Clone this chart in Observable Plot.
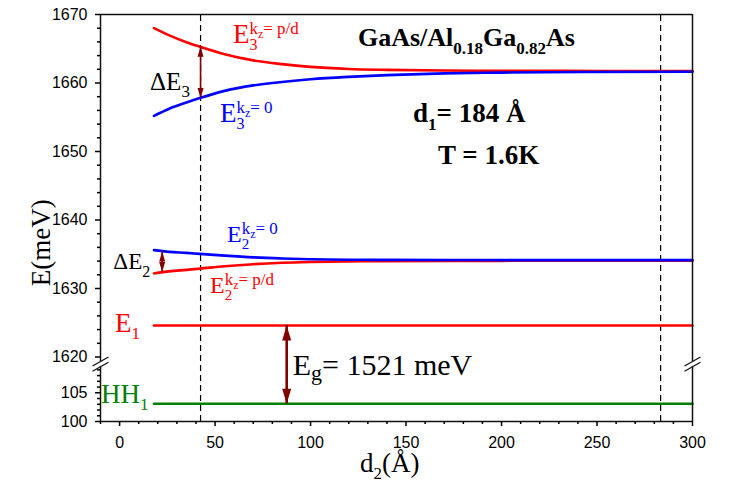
<!DOCTYPE html>
<html><head><meta charset="utf-8">
<script src="https://cdn.jsdelivr.net/npm/d3@7"></script>
<script src="https://cdn.jsdelivr.net/npm/@observablehq/plot@0.6"></script>
<style>body{margin:0;background:#fff}</style>
</head><body><div id="chart"></div>
<script>
// ---------- data ----------
const d2 = [18, 26, 35, 42, 55, 70, 85, 100, 120, 140, 170, 200, 250, 300];
const E3pi   = [1668.0, 1666.95, 1665.95, 1665.3, 1664.2, 1663.3, 1662.75, 1662.35, 1662.05, 1661.92, 1661.82, 1661.78, 1661.76, 1661.75];
const E3zero = [1655.2, 1656.25, 1657.15, 1657.8, 1658.85, 1659.65, 1660.15, 1660.55, 1660.9, 1661.15, 1661.4, 1661.52, 1661.61, 1661.65];
const E2zero = [1635.6, 1635.35, 1635.2, 1635.05, 1634.8, 1634.55, 1634.38, 1634.27, 1634.2, 1634.18, 1634.16, 1634.15, 1634.15, 1634.15];
const E2pi   = [1632.2, 1632.5, 1632.72, 1632.9, 1633.25, 1633.55, 1633.75, 1633.87, 1633.96, 1634.0, 1634.03, 1634.04, 1634.05, 1634.05];
const flatX  = [18, 300];
const E1     = [1624.6, 1624.6];
const HH1    = [103.1, 103.1];
const dashedX = [42.4, 283.3];

const xMajor = [0, 50, 100, 150, 200, 250, 300];
const xMinor = d3.range(-10, 301, 10).filter(v => v % 50 !== 0);
const yMajor = [100, 105, 1620, 1630, 1640, 1650, 1660, 1670];
const yMinor = [101, 102, 103, 104, 106, 107, 108, 109, ...d3.range(1622, 1670, 2).filter(v => v % 10 !== 0)];

const yDomain = [100, 109.6, 1619.3, 1670];   // broken axis: lower and upper segments
const xDomain = [-10, 300];

const arrowsThin = [{x: 42.4, y1: 1665.3, y2: 1657.8}, {x: 22.3, y1: 1635.4, y2: 1632.4}];
const arrowsThick = [{x: 87.5, y1: 1624.6, y2: 103.1}];

const red = "#ff0000", blue = "#0000ff", green = "#008000", darkRed = "#800000";

// ---------- helpers ----------
const series = (xs, ys) => xs.map((x, i) => ({x, y: ys[i]}));
const head = (len, hw, up) => ({draw(ctx) { const s = up ? 1 : -1; ctx.moveTo(0, 0); ctx.lineTo(hw, s * len); ctx.lineTo(-hw, s * len); ctx.closePath(); }});
const breakSym = {draw(ctx) { for (const o of [-2.6, 2.6]) { ctx.moveTo(-8, o + 4.5); ctx.lineTo(8, o - 4.5); } }};
const breakY = (yDomain[1] + yDomain[2]) / 2;
const frameSegs = [
  {x: -10, y1: 100, y2: yDomain[1]}, {x: -10, y1: yDomain[2], y2: 1670},
  {x: 300, y1: 100, y2: yDomain[1]}, {x: 300, y1: yDomain[2], y2: 1670}
];
const curveOpts = (stroke) => ({x: "x", y: "y", stroke, strokeWidth: 2.6, curve: "monotone-x"});
const fmt = d => String(d);

const plot = Plot.plot({
  width: 730, height: 482,
  marginLeft: 100, marginRight: 38, marginTop: 14, marginBottom: 61,
  style: {fontFamily: "'Liberation Sans', Arial, sans-serif", fontSize: "16px", background: "#fff", color: "#000", overflow: "visible"},
  x: {domain: xDomain},
  y: {type: "linear", domain: yDomain, range: [421, 365.9, 361.3, 14]},
  marks: [
    Plot.ruleX(dashedX, {y1: 100, y2: 1670, stroke: "#000", strokeWidth: 1.2, strokeDasharray: "6,4"}),
    Plot.line(series(d2, E3pi), curveOpts(red)),
    Plot.line(series(d2, E3zero), curveOpts(blue)),
    Plot.line(series(d2, E2pi), curveOpts(red)),
    Plot.line(series(d2, E2zero), curveOpts(blue)),
    Plot.line(series(flatX, E1), curveOpts(red)),
    Plot.line(series(flatX, HH1), curveOpts(green)),
    // arrows
    Plot.ruleX(arrowsThin, {x: "x", y1: "y1", y2: "y2", stroke: darkRed, strokeWidth: 1.6}),
    Plot.ruleX(arrowsThick, {x: "x", y1: "y1", y2: "y2", stroke: darkRed, strokeWidth: 2.6}),
    Plot.dot(arrowsThin, {x: "x", y: "y1", r: 4, symbol: head(10, 3, true), fill: darkRed, stroke: "none"}),
    Plot.dot(arrowsThin, {x: "x", y: "y2", r: 4, symbol: head(10, 3, false), fill: darkRed, stroke: "none"}),
    Plot.dot(arrowsThick, {x: "x", y: "y1", r: 4, symbol: head(15, 4.5, true), fill: darkRed, stroke: "none"}),
    Plot.dot(arrowsThick, {x: "x", y: "y2", r: 4, symbol: head(15, 4.5, false), fill: darkRed, stroke: "none"}),
    // frame
    Plot.ruleY([100, 1670], {stroke: "#111", strokeWidth: 1.5}),
    Plot.ruleX(frameSegs, {x: "x", y1: "y1", y2: "y2", stroke: "#111", strokeWidth: 1.5}),
    Plot.dot([-10, 300], {x: d => d, y: () => breakY, r: 5, symbol: breakSym, fill: "none", stroke: "#111", strokeWidth: 1.3}),
    // axes
    Plot.axisX(xMajor, {tickSize: 5, tickPadding: 10, strokeWidth: 1.5, fontSize: 16, tickFormat: fmt, label: null}),
    Plot.axisX(xMinor, {tickSize: 3, strokeWidth: 1.5, tickFormat: () => "", label: null}),
    Plot.axisY(yMajor, {tickSize: 5, tickPadding: 8, strokeWidth: 1.5, fontSize: 16, tickFormat: fmt, label: null}),
    Plot.axisY(yMinor, {tickSize: 3, strokeWidth: 1.5, tickFormat: () => "", label: null})
  ]
});
document.getElementById("chart").append(plot);

// ---------- rich-text labels (sub/superscripts), placed through the plot's scales ----------
const sx = plot.scale("x").apply, sy = plot.scale("y").apply;
// part style: s = font size (px), d = baseline shift (px), stack = start at the previous part's x
const st = (s, d, stack) => ({s, d, stack});

const labels = [
  {x: 59.6, y: 1665.7, size: 27, color: red,  parts: [["E"], ["3", st(16, 7)], ["k", st(17, -9, true)], ["z", st(12, -5)], ["= p/d", st(17, -9)]]},
  {x: 52.8, y: 1654.3, size: 27, color: blue, parts: [["E"], ["3", st(16, 7)], ["k", st(17, -9, true)], ["z", st(12, -5)], ["= 0", st(17, -9)]]},
  {x: 56.5, y: 1636.75, size: 24, color: blue, parts: [["E"], ["2", st(15, 7)], ["k", st(17, -8, true)], ["z", st(12, -4)], ["= 0", st(17, -8)]]},
  {x: 47.6, y: 1629.25, size: 24, color: red,  parts: [["E"], ["2", st(15, 7)], ["k", st(17, -8, true)], ["z", st(12, -4)], ["= p/d", st(17, -8)]]},
  {x: -2.1, y: 1623.6, size: 27, color: red, parts: [["E"], ["1", st(17, 7)]]},
  {x: -9.5, y: 103.05, size: 27, color: green, parts: [["HH"], ["1", st(17, 7)]]},
  {x: 16.2, y: 1658.9, size: 25, color: "#000", parts: [["ΔE"], ["3", st(17, 7)]]},
  {x: -3.0, y: 1632.75, size: 23, color: "#000", parts: [["ΔE"], ["2", st(16, 8)]]},
  {x: 90.9, y: 108.0, size: 30, color: "#000", parts: [["E"], ["g", st(22, 5)], ["= 1521 meV"]]},
  {x: 125.1, y: 1665.35, size: 26, bold: true, color: "#000", parts: [["GaAs/Al"], ["0.18", st(17, 8)], ["Ga"], ["0.82", st(17, 8)], ["As"]]},
  {x: 153.9, y: 1654.3, size: 27, bold: true, color: "#000", parts: [["d"], ["1", st(17, 8)], ["= 184 Å"]]},
  {x: 167, y: 1648.1, size: 27, bold: true, color: "#000", parts: [["T = 1.6K"]]},
  {x: 126.1, y: 91.2, size: 27, color: "#000", parts: [["d"], ["2", st(17, 7)], ["(Å)"]]}
];
const yTitle = {x: -36.2, y: 1636.6, size: 27, text: "E(meV)"};

const svg = d3.select(plot.tagName.toLowerCase() === "svg" ? plot : plot.querySelector("svg"));
const g = svg.append("g").attr("text-anchor", "start");
function richText(spec) {
  const px = sx(spec.x), py = sy(spec.y);
  const text = g.append("text").attr("x", px).attr("y", py)
    .attr("text-anchor", "start")
    .attr("fill", spec.color)
    .attr("font-family", "'Liberation Serif', 'Times New Roman', serif")
    .attr("font-size", spec.size)
    .attr("font-weight", spec.bold ? "bold" : "normal");
  let prevStart = px;
  for (const [t, o = {}] of spec.parts) {
    const before = text.node().getComputedTextLength();
    const ts = text.append("tspan").text(t)
      .attr("font-size", o.s || spec.size)
      .attr("y", py + (o.d || 0));
    let start = px + before;
    if (o.stack) { ts.attr("x", prevStart); start = prevStart; }
    prevStart = start;
  }
}
labels.forEach(richText);
{
  const px = sx(yTitle.x), py = sy(yTitle.y);
  g.append("text").attr("x", px).attr("y", py)
    .attr("transform", `rotate(-90,${px},${py})`)
    .attr("text-anchor", "middle")
    .attr("font-family", "'Liberation Serif', 'Times New Roman', serif")
    .attr("font-size", yTitle.size).attr("fill", "#000")
    .text(yTitle.text);
}
</script>
</body></html>
